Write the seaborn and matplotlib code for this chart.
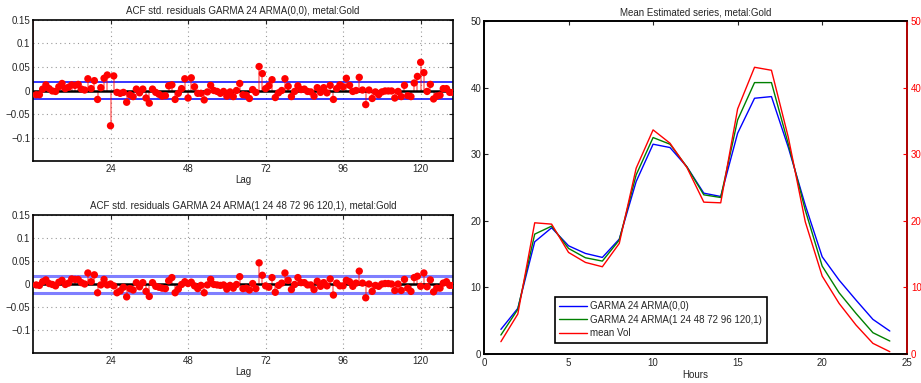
import numpy as np
import pandas as pd
import matplotlib
matplotlib.use("Agg")
import matplotlib.pyplot as plt
import seaborn as sns

# ---------------------
# Data
# ---------------------
lags = np.arange(0, 131)

acf_arma00 = [1.0,
    -0.009, -0.009, 0.003, 0.012, 0.004, -0.001, -0.002, 0.008, 0.015, 0.004,
    0.007, 0.012, 0.011, 0.013, 0.003, 0.001, 0.025, 0.004, 0.021, -0.019,
    0.006, 0.026, 0.033, -0.075, 0.031, -0.004, -0.006, -0.004, -0.025, -0.009,
    -0.013, 0.003, -0.005, 0.003, -0.016, -0.027, 0.003, -0.004, -0.008, -0.012,
    -0.011, 0.010, 0.012, -0.019, -0.006, 0.004, 0.025, -0.016, 0.027, 0.008,
    -0.006, -0.006, -0.020, -0.003, 0.011, 0.000, -0.002, -0.006, -0.002, -0.012,
    -0.003, -0.013, 0.000, 0.015, -0.009, -0.010, -0.017, 0.002, -0.004, 0.051,
    0.036, 0.004, 0.010, 0.023, -0.015, -0.005, 0.000, 0.025, 0.009, -0.013,
    -0.002, 0.010, 0.002, 0.003, -0.002, -0.003, -0.012, 0.006, -0.004, 0.006,
    -0.005, 0.011, -0.019, 0.004, 0.012, 0.008, 0.026, 0.011, -0.002, 0.000,
    0.028, 0.001, -0.030, 0.001, -0.017, -0.003, -0.009, -0.003, -0.001, -0.001,
    -0.001, -0.016, -0.002, -0.013, 0.011, -0.011, -0.013, 0.016, 0.030, 0.060,
    0.038, -0.002, 0.013, -0.018, -0.012, -0.010, 0.004, 0.004, -0.004, -0.004]

acf_arma_seasonal = [1.0,
    -0.002, -0.003, 0.005, 0.009, 0.001, -0.001, -0.004, 0.004, 0.008, -0.001,
    0.002, 0.011, 0.010, 0.010, 0.003, 0.000, 0.024, 0.005, 0.020, -0.019,
    -0.002, 0.010, -0.002, 0.000, -0.004, -0.019, -0.015, -0.007, -0.028, -0.010,
    -0.013, 0.003, -0.006, 0.003, -0.016, -0.027, 0.003, -0.005, -0.007, -0.009,
    -0.010, 0.007, 0.014, -0.019, -0.011, -0.001, 0.005, 0.001, 0.004, -0.004,
    -0.010, -0.003, -0.019, -0.002, 0.010, -0.001, -0.002, -0.003, -0.002, -0.011,
    -0.003, -0.009, -0.001, 0.016, -0.010, -0.009, -0.013, 0.001, -0.010, 0.046,
    0.019, -0.004, -0.007, 0.014, -0.018, -0.003, 0.002, 0.024, 0.008, -0.012,
    -0.001, 0.014, 0.003, 0.003, -0.002, -0.002, -0.012, 0.006, -0.005, 0.003,
    -0.004, 0.011, -0.024, 0.002, -0.004, -0.004, 0.008, 0.005, -0.005, 0.002,
    0.028, 0.002, -0.030, 0.000, -0.016, -0.003, -0.005, 0.000, 0.001, 0.001,
    0.000, -0.014, 0.000, -0.014, 0.010, -0.009, -0.016, 0.014, 0.017, -0.005,
    0.024, -0.006, 0.009, -0.017, -0.009, -0.009, 0.002, 0.005, -0.003, -0.003]

conf_band = 0.0185

hours = np.arange(1, 25)
garma_arma00 = [3.7, 6.85, 16.85, 18.95, 16.25, 15.1, 14.5, 17.25, 25.9, 31.5,
                31.0, 28.1, 24.15, 23.65, 33.15, 38.4, 38.65, 31.0, 22.35, 14.6,
                11.1, 8.1, 5.2, 3.45]
garma_arma_seasonal = [2.85, 6.7, 18.0, 19.2, 15.85, 14.45, 13.95, 17.1, 26.9, 32.5,
                       31.5, 28.1, 23.9, 23.5, 35.15, 40.75, 40.75, 31.5, 21.6, 13.2,
                       9.2, 6.1, 3.2, 1.95]
mean_vol = [1.85, 6.0, 19.7, 19.5, 15.25, 13.75, 13.1, 16.6, 27.9, 33.65,
            31.65, 28.0, 22.8, 22.7, 36.8, 43.05, 42.6, 32.5, 19.85, 11.7,
            7.6, 4.35, 1.6, 0.35]

acf_titles = ["ACF std. residuals GARMA 24 ARMA(0,0), metal:Gold",
              "ACF std. residuals GARMA 24 ARMA(1 24 48 72 96 120,1), metal:Gold"]
legend_labels = ["GARMA 24 ARMA(0,0)", "GARMA 24 ARMA(1 24 48 72 96 120,1)", "mean Vol"]

# ---------------------
# Style
# ---------------------
sns.set_theme(style="white")
plt.rcParams["font.family"] = ["Liberation Sans", "DejaVu Sans"]
plt.rcParams.update({
    "font.size": 7,
    "axes.titlesize": 7,
    "axes.labelsize": 7,
    "xtick.labelsize": 7,
    "ytick.labelsize": 7,
    "xtick.direction": "in",
    "ytick.direction": "in",
    "axes.edgecolor": "black",
    "axes.linewidth": 1.2,
    "text.color": "#262626",
    "xtick.color": "#262626",
    "ytick.color": "#262626",
    "axes.labelcolor": "#262626",
})

fig = plt.figure(figsize=(9.21, 3.83), dpi=100)
ax1 = fig.add_axes([0.0358, 0.5796, 0.456, 0.3682])
ax2 = fig.add_axes([0.0358, 0.0783, 0.456, 0.3603])
ax3 = fig.add_axes([0.5255, 0.0757, 0.459, 0.8695])


def draw_acf(ax, values, title, band_color, band_lw):
    df = pd.DataFrame({"lag": lags, "acf": values})
    ax.vlines(df["lag"], 0, df["acf"], color="red", alpha=0.55, lw=1.1, zorder=2)
    sns.scatterplot(data=df, x="lag", y="acf", ax=ax, color="red", s=28,
                    edgecolor="none", zorder=3, clip_on=True)
    ax.axhline(0, color="black", lw=1.8, zorder=2.5)
    ax.axhline(conf_band, color=band_color, lw=band_lw, zorder=1.5)
    ax.axhline(-conf_band, color=band_color, lw=band_lw, zorder=1.5)
    ax.set_xlim(0, 130)
    ax.set_ylim(-0.15, 0.15)
    ax.set_xticks([24, 48, 72, 96, 120])
    ax.set_yticks([-0.1, -0.05, 0, 0.05, 0.1, 0.15])
    ax.set_yticklabels(["\u22120.1", "\u22120.05", "0", "0.05", "0.1", "0.15"])
    ax.grid(True, color="#999999", linestyle=(0, (1, 3)), lw=0.8)
    ax.tick_params(top=True, right=True, length=3, width=0.8, pad=2)
    ax.set_title(title, pad=4)
    ax.set_xlabel("Lag", labelpad=1)
    ax.set_ylabel("")


draw_acf(ax1, acf_arma00, acf_titles[0], "#0000ff", 1.1)
draw_acf(ax2, acf_arma_seasonal, acf_titles[1], "#7f7fff", 2.2)

# Mean estimated series
series = pd.DataFrame({"hour": hours, "a": garma_arma00, "b": garma_arma_seasonal})
sns.lineplot(data=series, x="hour", y="a", ax=ax3, color="#0000ff", lw=1.0,
             label=legend_labels[0])
sns.lineplot(data=series, x="hour", y="b", ax=ax3, color="#008000", lw=1.0,
             label=legend_labels[1])
ax3.set_xlim(0, 25)
ax3.set_ylim(0, 50)
ax3.set_xticks([0, 5, 10, 15, 20, 25])
ax3.set_yticks([0, 10, 20, 30, 40, 50])
ax3.tick_params(axis="y", length=3, width=0.8, pad=2, right=False)
ax3.tick_params(axis="x", top=True, length=3, width=0.8, pad=3)
ax3.set_xlabel("Hours", labelpad=1)
ax3.set_ylabel("")
ax3.set_title("Mean Estimated series, metal:Gold", pad=4)

ax4 = ax3.twinx()
vol = pd.DataFrame({"hour": hours, "vol": mean_vol})
sns.lineplot(data=vol, x="hour", y="vol", ax=ax4, color="#ff0000", lw=1.0,
             label=legend_labels[2])
ax4.set_ylim(0, 50)
ax4.set_yticks([0, 10, 20, 30, 40, 50])
ax4.set_ylabel("")
ax4.tick_params(axis="y", colors="#ff0000", length=3, width=0.8, pad=3,
                direction="in")
ax4.spines["right"].set_color("#cc0000")
ax4.legend_.remove()

h1, l1 = ax3.get_legend_handles_labels()
h2, l2 = ax4.get_legend_handles_labels()
leg = ax3.legend(h1 + h2, l1 + l2, loc="lower left",
                 bbox_to_anchor=(0.168, 0.034), frameon=True, fancybox=False,
                 edgecolor="black", framealpha=1, fontsize=7,
                 handlelength=2.8, handletextpad=0.4, borderpad=0.45,
                 labelspacing=0.38, borderaxespad=0)
leg.get_frame().set_linewidth(1.2)

fig.savefig("out.png", dpi=100)
plt.close(fig)
